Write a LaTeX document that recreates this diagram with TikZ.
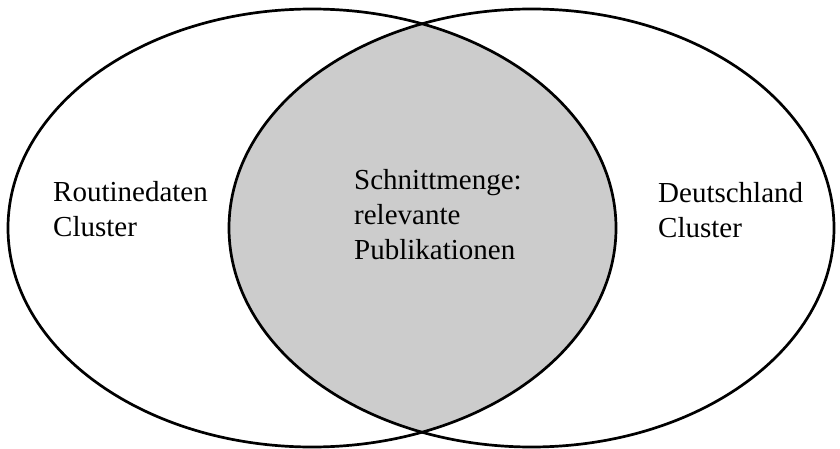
\documentclass[tikz,border=0pt]{standalone}
\usepackage{fontspec}
\setmainfont{Liberation Serif}
\definecolor{overlapgray}{RGB}{204,204,204}
\begin{document}
\begin{tikzpicture}[x=1pt,y=1pt,
  setline/.style={line width=2.7pt,draw=black},
  label/.style={inner sep=0pt,anchor=base west,align=left,font=\fontsize{29}{35}\selectfont}]
\useasboundingbox (0,0) rectangle (840,-449);
% shaded intersection of the two sets
\begin{scope}
  \clip (312,-228) ellipse [x radius=304,y radius=219];
  \fill[overlapgray] (531.5,-228) ellipse [x radius=302.5,y radius=219];
\end{scope}
\draw[setline] (312,-228) ellipse [x radius=304,y radius=219];
\draw[setline] (531.5,-228) ellipse [x radius=302.5,y radius=219];
% anchor "base" sits on the baseline of the last line
\node[label] (left) at (53,-236) {Routinedaten\\Cluster};
\node[label] (mid) at (354,-259) {Schnittmenge:\\relevante\\Publikationen};
\node[label] (right) at (658,-237) {Deutschland\\Cluster};
\end{tikzpicture}
\end{document}
